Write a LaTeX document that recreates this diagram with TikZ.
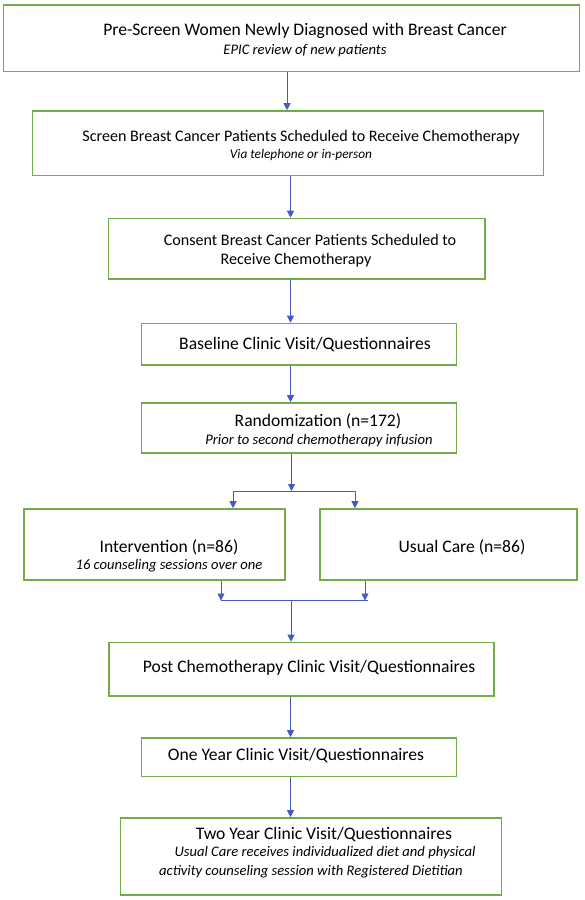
\documentclass[tikz,border=0pt]{standalone}
\usepackage{fontspec}
\setmainfont{Carlito}
\usetikzlibrary{arrows.meta}
\definecolor{boxgreen}{RGB}{112,173,71}
\definecolor{arrblue}{RGB}{72,88,196}
\tikzset{
  box/.style={draw=boxgreen, line width=1.6pt, fill=white, inner sep=0pt},
  lbl/.style={inner sep=0pt, anchor=center, text=black},
  main/.style={lbl, font=\fontsize{17.6}{20}\selectfont},
  mainsm/.style={lbl, font=\fontsize{16.1}{19}\selectfont},
  sub/.style={lbl, font=\fontsize{14.6}{17}\selectfont\itshape},
  subsm/.style={lbl, font=\fontsize{13.3}{16}\selectfont\itshape},
  conn/.style={draw=arrblue, line width=0.9pt},
  arr/.style={conn, -{Triangle[width=7pt,length=7pt]}}
}
\begin{document}
\begin{tikzpicture}[x=1pt,y=-1pt]
\useasboundingbox (0,0) rectangle (585,900);
% boxes
\node[box, minimum width=576pt, minimum height=66.5pt] (b1) at (291.5,38.25) {};
\node[box, minimum width=511pt, minimum height=64.5pt] (b2) at (288,143.25) {};
\node[box, minimum width=376.5pt, minimum height=60.5pt] (b3) at (296.75,248.75) {};
\node[box, minimum width=315pt, minimum height=41.5pt] (b4) at (299,344.25) {};
\node[box, minimum width=315pt, minimum height=50pt] (b5) at (299,428) {};
\node[box, minimum width=261pt, minimum height=71pt] (bl) at (154.5,544.5) {};
\node[box, minimum width=257pt, minimum height=71pt] (br) at (448.5,544.5) {};
\node[box, minimum width=385pt, minimum height=53.5pt] (b6) at (301.5,669.25) {};
\node[box, minimum width=315pt, minimum height=38.5pt] (b7) at (299,757.25) {};
\node[box, minimum width=381pt, minimum height=77pt] (b8) at (311,856.5) {};
% texts
\node[main] (t1) at (305,31) {Pre-Screen Women Newly Diagnosed with Breast Cancer};
\node[sub] (s1) at (305,51) {EPIC review of new patients};
\node[mainsm] (t2) at (301,137) {Screen Breast Cancer Patients Scheduled to Receive Chemotherapy};
\node[subsm] (s2) at (301,155) {Via telephone or in-person};
\node[mainsm] (t3a) at (310,240) {Consent Breast Cancer Patients Scheduled to};
\node[mainsm] (t3b) at (296,260) {Receive Chemotherapy};
\node[main] (t4) at (305,345) {Baseline Clinic Visit/Questionnaires};
\node[main] (t5) at (318,421) {Randomization (n=172)};
\node[sub] (s5) at (319,441) {Prior to second chemotherapy infusion};
\node[main] (tl) at (169,547) {Intervention (n=86)};
\node[sub] (sl) at (169,566) {16 counseling sessions over one};
\node[main] (tr) at (462,547) {Usual Care (n=86)};
\node[main] (t6) at (309,668) {Post Chemotherapy Clinic Visit/Questionnaires};
\node[main] (t7) at (296,756) {One Year Clinic Visit/Questionnaires};
\node[main] (t8) at (324,835) {Two Year Clinic Visit/Questionnaires};
\node[sub] (s8a) at (325,853) {Usual Care receives individualized diet and physical};
\node[sub] (s8b) at (311,872) {activity counseling session with Registered Dietitian};
% connector coordinates
\coordinate (x1) at (287,0);
\coordinate (xc) at (290.5,0);
\coordinate (xs) at (291.5,0);
\coordinate (split) at (291.5,491);
\coordinate (splitL) at (233,491);
\coordinate (splitR) at (355,491);
\coordinate (xml) at (221,0);
\coordinate (xmr) at (365,0);
\coordinate (merge) at (291,600.5);
\coordinate (mergeL) at (221,600.5);
\coordinate (mergeR) at (368,600.5);
% connectors
\draw[arr] (b1.south -| x1) -- (b2.north -| x1);
\draw[arr] (b2.south -| xc) -- (b3.north -| xc);
\draw[arr] (b3.south -| xc) -- (b4.north -| xc);
\draw[arr] (b4.south -| xc) -- (b5.north -| xc);
\draw[arr] (b5.south -| xs) -- (split);
\draw[conn] (splitL) -- (splitR);
\draw[arr] (splitL) -- (bl.north -| splitL);
\draw[arr] (splitR) -- (br.north -| splitR);
\draw[arr] (bl.south -| xml) -- (mergeL);
\draw[arr] (br.south -| xmr) -- (mergeR -| xmr);
\draw[conn] (mergeL) -- (mergeR);
\draw[arr] (merge) -- (b6.north -| merge);
\draw[arr] (b6.south -| xc) -- (b7.north -| xc);
\draw[arr] (b7.south -| xc) -- (b8.north -| xc);
\end{tikzpicture}
\end{document}
